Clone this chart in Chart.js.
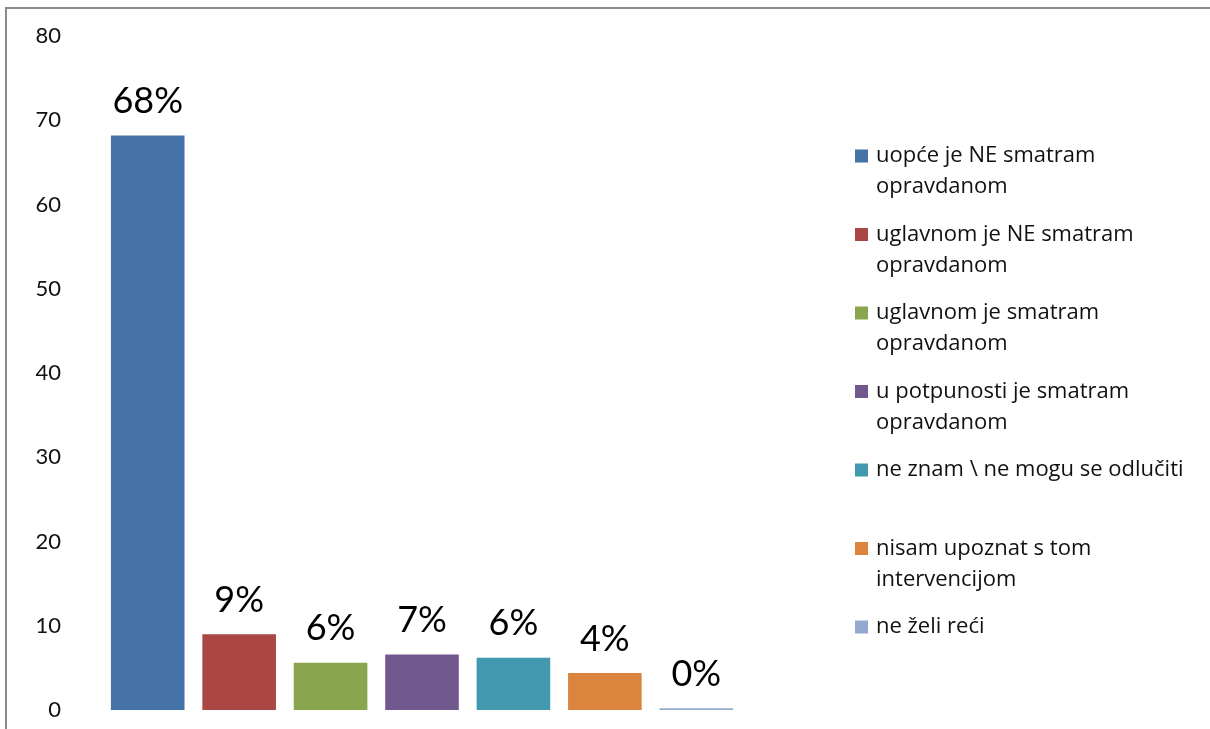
<!DOCTYPE html>
<html><head><meta charset="utf-8">
<script src="https://cdn.jsdelivr.net/npm/chart.js@4.4.1/dist/chart.umd.min.js"></script>
<style>html,body{margin:0;padding:0;background:#fff;overflow:hidden}#wrap{position:absolute;left:0;top:0;width:1210px;height:729px}canvas{display:block}</style>
</head><body><div id="wrap"><canvas id="c" width="1210" height="729"></canvas></div>
<script>
const categories = [
  ['uopće je NE smatram', 'opravdanom'],
  ['uglavnom je NE smatram', 'opravdanom'],
  ['uglavnom je smatram', 'opravdanom'],
  ['u potpunosti je smatram', 'opravdanom'],
  ['ne znam \\ ne mogu se odlučiti'],
  ['nisam upoznat s tom', 'intervencijom'],
  ['ne želi reći']
];
const values = [68.2, 9.0, 5.6, 6.6, 6.2, 4.4, 0.2];
const valueLabels = ['68%', '9%', '6%', '7%', '6%', '4%', '0%'];
const colors = ['#4572A7', '#AA4643', '#89A54E', '#71588F', '#4198AF', '#DB843D', '#93A9CF'];
const yMin = 0, yMax = 80, yStep = 10;

const FONT = 'Lato, "Open Sans", sans-serif';
const LEGEND_FONT = '"Open Sans", Lato, sans-serif';

const framePlugin = {
  id: 'frame',
  beforeDraw(chart) {
    const ctx = chart.ctx;
    ctx.save();
    ctx.strokeStyle = '#8a8a8a';
    ctx.lineWidth = 2;
    ctx.strokeRect(6, 8, 1400, 1400);
    ctx.restore();
  }
};

const valueLabelPlugin = {
  id: 'valueLabels',
  afterDatasetsDraw(chart) {
    const ctx = chart.ctx;
    const meta = chart.getDatasetMeta(0);
    ctx.save();
    ctx.font = '36px ' + FONT;
    ctx.fillStyle = '#000';
    ctx.textAlign = 'center';
    ctx.textBaseline = 'middle';
    meta.data.forEach((el, i) => {
      ctx.fillText(valueLabels[i], el.x, el.y - 34);
    });
    ctx.restore();
  }
};

const legendPlugin = {
  id: 'sideLegend',
  afterDraw(chart) {
    const ctx = chart.ctx;
    const x0 = chart.chartArea.right + 113;
    ctx.save();
    ctx.font = '22px ' + LEGEND_FONT;
    ctx.textBaseline = 'middle';
    ctx.textAlign = 'left';
    categories.forEach((lines, i) => {
      const y = 156 + i * 78.5;
      ctx.fillStyle = colors[i];
      ctx.fillRect(x0, y - 6.5, 13, 13);
      ctx.fillStyle = '#111';
      lines.forEach((t, j) => ctx.fillText(t, x0 + 21, y + j * 31));
    });
    ctx.restore();
  }
};

new Chart(document.getElementById('c'), {
  type: 'bar',
  data: {
    labels: categories.map(c => c.join(' ')),
    datasets: [{
      data: values,
      backgroundColor: colors,
      borderWidth: 0,
      barPercentage: 0.805,
      categoryPercentage: 1.0
    }]
  },
  options: {
    responsive: false,
    animation: false,
    layout: { padding: { left: 20, right: 468, top: 36, bottom: 19 } },
    plugins: { legend: { display: false }, tooltip: { enabled: false } },
    scales: {
      x: { display: false },
      y: {
        min: yMin, max: yMax,
        grid: { display: false, drawTicks: false },
        border: { display: false },
        ticks: { stepSize: yStep, padding: 41, color: '#111', font: { family: FONT, size: 22 } },
        afterFit(scale) {
          scale.width = 82;
          scale.paddingTop = 12;
          scale.paddingBottom = 12;
        }
      }
    }
  },
  plugins: [framePlugin, valueLabelPlugin, legendPlugin]
});
</script>
</body></html>
